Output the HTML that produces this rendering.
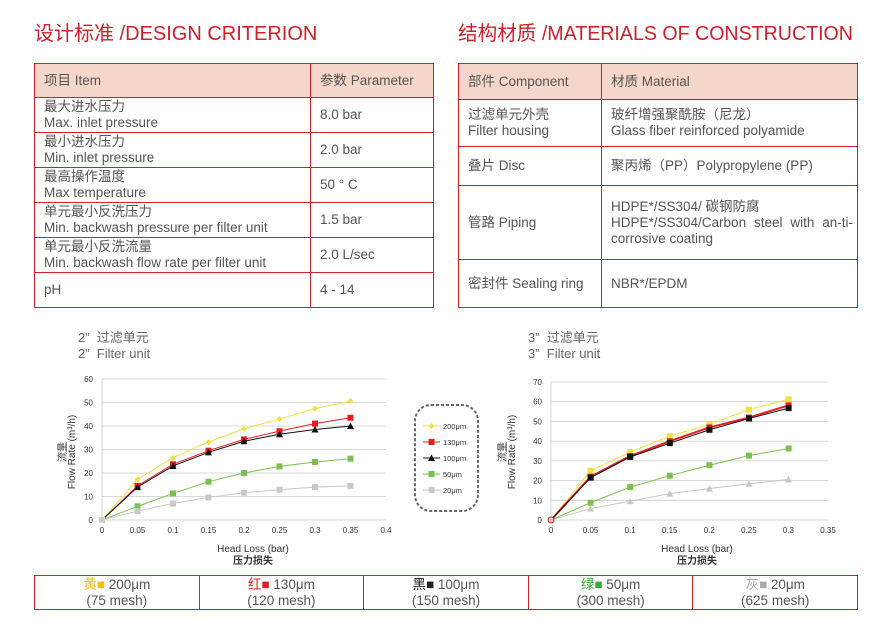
<!DOCTYPE html><html><head><meta charset="utf-8"><style>
body{margin:0;width:885px;height:626px;background:#fff;font-family:"Liberation Sans","Noto Sans CJK SC",sans-serif;color:#555;position:relative;overflow:hidden}
.t{position:absolute;color:#d0202a;font-size:20px;top:17px;white-space:nowrap;transform-origin:0 0}
table{position:absolute;border-collapse:collapse;font-size:13.5px;color:#555}
td{border:1px solid #d0202a;padding:0 0 0 9px;line-height:16px}
.h td{background:#f5d6cb}
.c{position:absolute;font-size:13px;color:#666;line-height:16px}
svg{position:absolute;left:0;top:0}
</style></head><body>
<div class="t" style="left:34px">设计标准 /DESIGN CRITERION</div>
<div class="t" style="left:458px;transform:scaleX(0.98)">结构材质 /MATERIALS OF CONSTRUCTION</div>
<table style="left:34px;top:63px;width:400px">
<tr class="h" style="height:34px"><td style="width:266px">项目 Item</td><td>参数 Parameter</td></tr>
<tr style="height:35px"><td>最大进水压力<br>Max. inlet pressure</td><td>8.0 bar</td></tr>
<tr style="height:35px"><td>最小进水压力<br>Min. inlet pressure</td><td>2.0 bar</td></tr>
<tr style="height:35px"><td>最高操作温度<br>Max temperature</td><td>50 ° C</td></tr>
<tr style="height:35px"><td>单元最小反洗压力<br>Min. backwash pressure per filter unit</td><td>1.5 bar</td></tr>
<tr style="height:35px"><td>单元最小反洗流量<br>Min. backwash flow rate per filter unit</td><td>2.0 L/sec</td></tr>
<tr style="height:35px"><td>pH</td><td>4 - 14</td></tr>
</table>
<table style="left:458px;top:63px;width:400px">
<tr class="h" style="height:36px"><td style="width:133px">部件 Component</td><td>材质 Material</td></tr>
<tr style="height:47px"><td>过滤单元外壳<br>Filter housing</td><td>玻纤增强聚酰胺（尼龙）<br>Glass fiber reinforced polyamide</td></tr>
<tr style="height:39px"><td>叠片 Disc</td><td>聚丙烯（PP）Polypropylene (PP)</td></tr>
<tr style="height:74px"><td>管路 Piping</td><td style="padding-right:4px;text-align:justify">HDPE*/SS304/ 碳钢防腐<br>HDPE*/SS304/Carbon steel with an-ti-corrosive coating</td></tr>
<tr style="height:48px"><td>密封件 Sealing ring</td><td>NBR*/EPDM</td></tr>
</table>
<div class="c" style="left:78px;top:330px">2”&nbsp; 过滤单元<br>2”&nbsp; Filter unit</div>
<div class="c" style="left:528px;top:330px">3”&nbsp; 过滤单元<br>3”&nbsp; Filter unit</div>
<svg width="885" height="626" font-family="Liberation Sans,Noto Sans CJK SC,sans-serif" font-size="8" fill="#333">
<g stroke="#ccc" stroke-width="0.8">
<line x1="102" x2="386" y1="379" y2="379"/><line x1="102" x2="386" y1="402.5" y2="402.5"/><line x1="102" x2="386" y1="426" y2="426"/><line x1="102" x2="386" y1="449.5" y2="449.5"/><line x1="102" x2="386" y1="473" y2="473"/><line x1="102" x2="386" y1="496.5" y2="496.5"/><line x1="102" x2="386" y1="520" y2="520"/><line x1="102" x2="102" y1="379" y2="520"/>
<line x1="551" x2="828" y1="382" y2="382"/><line x1="551" x2="828" y1="401.7" y2="401.7"/><line x1="551" x2="828" y1="421.4" y2="421.4"/><line x1="551" x2="828" y1="441.1" y2="441.1"/><line x1="551" x2="828" y1="460.9" y2="460.9"/><line x1="551" x2="828" y1="480.6" y2="480.6"/><line x1="551" x2="828" y1="500.3" y2="500.3"/><line x1="551" x2="828" y1="520" y2="520"/><line x1="551" x2="551" y1="382" y2="520"/>
</g>
<g text-anchor="end">
<text x="93" y="382">60</text><text x="93" y="405.5">50</text><text x="93" y="429">40</text><text x="93" y="452.5">30</text><text x="93" y="476">20</text><text x="93" y="499.5">10</text><text x="93" y="523">0</text>
<text x="542" y="385">70</text><text x="542" y="404.7">60</text><text x="542" y="424.4">50</text><text x="542" y="444.1">40</text><text x="542" y="463.9">30</text><text x="542" y="483.6">20</text><text x="542" y="503.3">10</text><text x="542" y="523">0</text>
</g>
<g text-anchor="middle">
<text x="102" y="533">0</text><text x="137.5" y="533">0.05</text><text x="173" y="533">0.1</text><text x="208.5" y="533">0.15</text><text x="244" y="533">0.2</text><text x="279.5" y="533">0.25</text><text x="315" y="533">0.3</text><text x="350.5" y="533">0.35</text><text x="386" y="533">0.4</text>
<text x="551" y="533">0</text><text x="590.6" y="533">0.05</text><text x="630.1" y="533">0.1</text><text x="669.7" y="533">0.15</text><text x="709.3" y="533">0.2</text><text x="748.9" y="533">0.25</text><text x="788.4" y="533">0.3</text><text x="828" y="533">0.35</text>
<text x="253" y="552" font-size="10">Head Loss (bar)</text><text x="253" y="564" font-size="10" font-weight="bold">压力损失</text>
<text x="697" y="552" font-size="10">Head Loss (bar)</text><text x="697" y="564" font-size="10" font-weight="bold">压力损失</text>
</g>
<text transform="translate(66,452) rotate(-90)" text-anchor="middle" font-size="10">流量</text>
<text transform="translate(71,452) rotate(-90)" text-anchor="middle" font-size="10" dy="4">Flow Rate (m³/h)</text>
<text transform="translate(506,452) rotate(-90)" text-anchor="middle" font-size="10">流量</text>
<text transform="translate(511,452) rotate(-90)" text-anchor="middle" font-size="10" dy="4">Flow Rate (m³/h)</text>
<rect x="415" y="405" width="63" height="106" rx="16" fill="none" stroke="#666" stroke-width="2" stroke-dasharray="3,2"/>
<g font-size="7.5"><text x="443" y="429">200μm</text><text x="443" y="445">130μm</text><text x="443" y="461">100μm</text><text x="443" y="477">50μm</text><text x="443" y="493">20μm</text></g>
<g id="g"></g>
</svg>
<table style="left:34px;top:575px;width:824px;text-align:center;font-size:13.5px">
<tr style="height:34px">
<td style="padding:0;width:20%"><span style="color:#f5c000">黄■</span> 200μm<br>(75 mesh)</td>
<td style="padding:0;width:20%"><span style="color:#e02020">红■</span> 130μm<br>(120 mesh)</td>
<td style="padding:0;width:20%"><span style="color:#222">黑■</span> 100μm<br>(150 mesh)</td>
<td style="padding:0;width:20%"><span style="color:#3aa83a">绿■</span> 50μm<br>(300 mesh)</td>
<td style="padding:0;width:20%"><span style="color:#aaa">灰■</span> 20μm<br>(625 mesh)</td></tr></table>
<script>
var g=document.getElementById('g'),s='';
function ser(x0,dx,y0,dy,d,col,m,w){var p=d.map((v,i)=>(x0+i*dx)+','+(y0-v*dy));s+='<polyline points="'+p.join(' ')+'" fill="none" stroke="'+col+'" stroke-width="'+w+'"/>';
d.forEach((v,i)=>{if(i==0)return;var x=x0+i*dx,y=y0-v*dy;s+=mk(x,y,col,m)});}
function mk(x,y,c,m){if(m=='s')return '<rect x="'+(x-3)+'" y="'+(y-3)+'" width="6" height="6" fill="'+c+'"/>';if(m=='t')return '<polygon points="'+x+','+(y-3.5)+' '+(x-3.5)+','+(y+3)+' '+(x+3.5)+','+(y+3)+'" fill="'+c+'"/>';return '<polygon points="'+x+','+(y-3)+' '+(x+3)+','+y+' '+x+','+(y+3)+' '+(x-3)+','+y+'" fill="'+c+'"/>';}
var Y='#f0e040',R='#e02020',K='#111',G='#7dc050',A='#c8c8c8';
ser(102,35.5,520,2.35,[0,5.8,11.3,16.3,20,22.8,24.7,26.1],G,'s',1);
ser(102,35.5,520,2.35,[0,3.8,7,9.6,11.6,12.9,14,14.5],A,'s',1);
ser(102,35.5,520,2.35,[0,17.3,26.5,33.2,38.8,43,47.4,50.6],Y,'d',1);
ser(102,35.5,520,2.35,[0,14.5,23.7,29.5,34.3,37.8,41,43.5],R,'s',1);
ser(102,35.5,520,2.35,[0,14,23,28.8,33.5,36.5,38.5,40],K,'t',1);
ser(551,39.6,520,1.97,[0,5.8,9.6,13.4,16,18.4,20.6],A,'t',1);
ser(551,39.6,520,1.97,[0,8.8,16.7,22.5,27.8,32.7,36.3],G,'s',1);
ser(551,39.6,520,1.97,[0,25,34.5,42.5,48.5,56,61.3],Y,'s',1);
ser(551,39.6,520,1.97,[0,22,32.5,40,47,52,58.2],R,'s',2);
ser(551,39.6,520,1.97,[0,21.5,32,39,45.8,51.5,56.8],K,'s',1);
s+=mk(102,520,'#ccc','s')+'<circle cx="551" cy="520" r="3" fill="#ccc" stroke="#e02020"/>';
[[Y,'d'],[R,'s'],[K,'t'],[G,'s'],[A,'s']].forEach((c,i)=>{var y=426+16*i;s+='<line x1="423" x2="440" y1="'+y+'" y2="'+y+'" stroke="'+c[0]+'"/>'+mk(431.5,y,c[0],c[1])});
g.innerHTML=s;
</script>
</body></html>
